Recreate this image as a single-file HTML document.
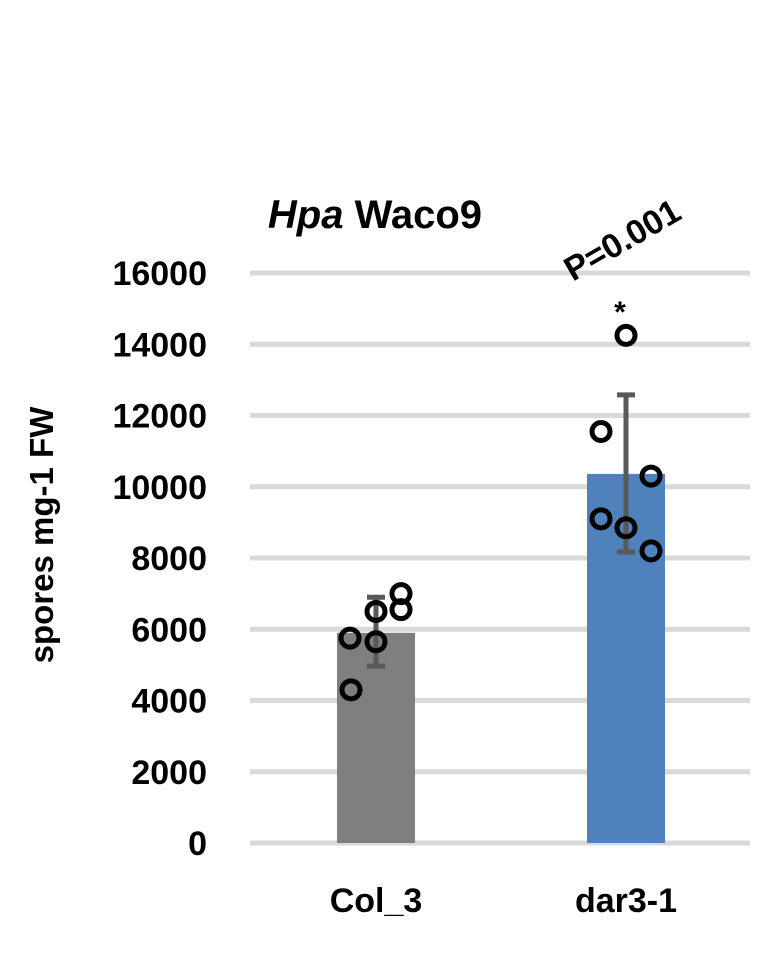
<!DOCTYPE html>
<html><head><meta charset="utf-8"><style>
html,body{margin:0;padding:0;background:#fff;}
svg text{font-family:"Liberation Sans",Arial,sans-serif;font-weight:bold;fill:#000;}
</style></head><body>
<svg id="chart" width="770" height="954" viewBox="0 0 770 954" xmlns="http://www.w3.org/2000/svg">
<text x="375" y="228" font-size="40" text-anchor="middle"><tspan font-style="italic">Hpa</tspan> Waco9</text>
<text transform="translate(53,535) rotate(-90)" font-size="33" text-anchor="middle">spores mg-1 FW</text>
<g id="grid"></g><g id="bars"></g><g id="pts"></g>
<text transform="translate(628,250) rotate(-30)" font-size="34" text-anchor="middle">P=0.001</text>
<text x="620" y="322" font-size="30" text-anchor="middle">*</text>
</svg>
<script>
const categories=["Col_3","dar3-1"];
const means=[5900,10360];
const errLow=[4970,8170];
const errHigh=[6900,12580];
const ptsCol=[4300,5750,5650,6500,7000,6550];
const ptsDar=[14250,11550,10300,9100,8850,8200];
const ticks=[0,2000,4000,6000,8000,10000,12000,14000,16000];
const NS="http://www.w3.org/2000/svg";
const y=v=>843-v*(570/16000);
const cx=[376,626];
const colors=["#7f7f7f","#4f81bd"];
function mk(t,a,p){const e=document.createElementNS(NS,t);for(const k in a)e.setAttribute(k,a[k]);p.appendChild(e);return e;}
const grid=document.getElementById('grid'),bars=document.getElementById('bars'),pts=document.getElementById('pts');
ticks.forEach(t=>{
 const l=mk('line',{x1:250,x2:750,y1:y(t),y2:y(t),stroke:'#d9d9d9','stroke-width':5},grid);
 
 
 const tx=mk('text',{x:207,y:y(t)+12,'font-size':34,'text-anchor':'end'},grid);
 tx.textContent=t;
 
 
});
categories.forEach((c,i)=>{
 const r=mk('rect',{x:cx[i]-39,y:y(means[i]),width:78,height:y(0)-y(means[i]),fill:colors[i]},bars);
 
 
 const g=mk('g',{stroke:'#595959','stroke-width':5},bars);
 
 
 mk('line',{x1:cx[i],x2:cx[i],y1:y(errLow[i]),y2:y(errHigh[i])},g);
 mk('line',{x1:cx[i]-9,x2:cx[i]+9,y1:y(errLow[i]),y2:y(errLow[i])},g);
 mk('line',{x1:cx[i]-9,x2:cx[i]+9,y1:y(errHigh[i]),y2:y(errHigh[i])},g);
 const tx=mk('text',{x:cx[i],y:912,'font-size':34,'text-anchor':'middle'},bars);
 tx.textContent=c;
 
 
});
const offs=[-25,-26,0,0,25,25];
[ptsCol,ptsDar].forEach((arr,i)=>{
 arr.forEach((v,j)=>{
  const o=i==0?offs[j]:[0,-25,25,-25,0,25][j];
  const c=mk('circle',{cx:cx[i]+o,cy:y(v),r:9,fill:'none',stroke:'#000','stroke-width':5},pts);
  
  
 });
});
</script>
</body></html>
